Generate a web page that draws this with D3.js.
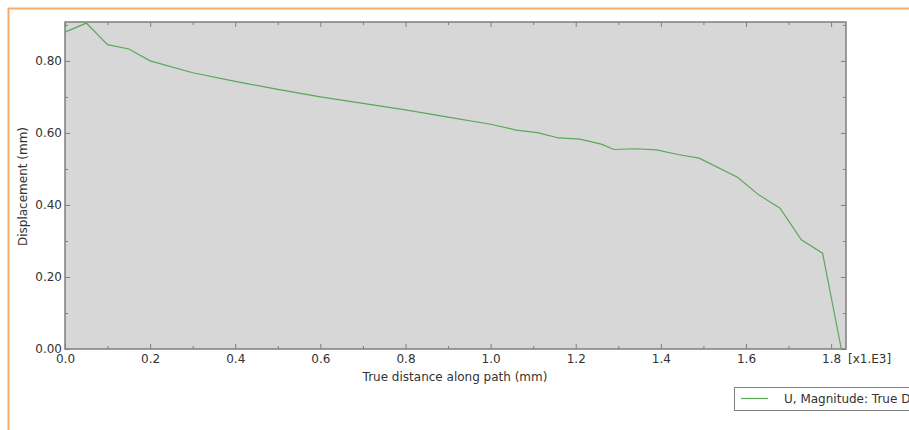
<!DOCTYPE html>
<html>
<head>
<meta charset="utf-8">
<script src="https://cdn.jsdelivr.net/npm/d3@7"></script>
<style>
  html, body { margin: 0; padding: 0; background: #ffffff; }
  svg { display: block; }
</style>
</head>
<body>
<svg id="chart" width="909" height="430"></svg>
<script>
// ---- data (x in units of 1e3 mm, y in mm) ----
const distance = [0, 0.05, 0.10, 0.15, 0.20, 0.30, 0.40, 0.50, 0.60, 0.70, 0.80, 0.90, 1.00, 1.06, 1.11, 1.16, 1.21, 1.26, 1.29, 1.34, 1.39, 1.44, 1.49, 1.58, 1.63, 1.68, 1.73, 1.78, 1.824];
const displacement = [0.880, 0.905, 0.845, 0.833, 0.800, 0.767, 0.743, 0.721, 0.700, 0.682, 0.664, 0.644, 0.624, 0.608, 0.601, 0.586, 0.583, 0.569, 0.554, 0.556, 0.553, 0.540, 0.530, 0.477, 0.428, 0.391, 0.303, 0.266, 0.0];
const xMajorTicks = [0, 0.2, 0.4, 0.6, 0.8, 1.0, 1.2, 1.4, 1.6, 1.8];
const xMinorTicks = [0.1, 0.3, 0.5, 0.7, 0.9, 1.1, 1.3, 1.5, 1.7];
const yMajorTicks = [0, 0.2, 0.4, 0.6, 0.8];
const yMinorTicks = [0.1, 0.3, 0.5, 0.7, 0.9];
const xTitle = "True distance along path (mm)";
const yTitle = "Displacement (mm)";
const xMultiplier = "[x1.E3]";
const legendLabel = "U, Magnitude: True Distance";

const svg = d3.select("#chart");
const plot = { left: 65, right: 846, top: 22, bottom: 349 };
const font = "'DejaVu Sans', Verdana, sans-serif";
const textColor = "#333333";
const frameColor = "#7f7f7f";
const lineColor = "#5aa85a";

const x = d3.scaleLinear().domain([0, 1.835]).range([plot.left, plot.right]);
const y = d3.scaleLinear().domain([0, 0.908]).range([plot.bottom, plot.top]);

// orange page border (top & left)
svg.append("line").attr("x1", 8).attr("x2", 909).attr("y1", 8.5).attr("y2", 8.5)
  .attr("stroke", "#f5ae6a").attr("stroke-width", 2);
svg.append("line").attr("x1", 8.5).attr("x2", 8.5).attr("y1", 8).attr("y2", 430)
  .attr("stroke", "#f5ae6a").attr("stroke-width", 2);

// plot background
svg.append("rect")
  .attr("x", plot.left).attr("y", plot.top)
  .attr("width", plot.right - plot.left).attr("height", plot.bottom - plot.top)
  .attr("fill", "#d7d7d7");

function styleAxis(g) {
  g.select(".domain").remove();
  g.selectAll(".tick line").attr("stroke", frameColor).attr("stroke-width", 1);
  g.selectAll(".tick text").attr("fill", textColor).style("font-family", font).style("font-size", "12px");
}

// bottom axis
svg.append("g").attr("transform", `translate(0,${plot.bottom})`)
  .call(d3.axisBottom(x).tickValues(xMajorTicks).tickFormat(d3.format(".1f")).tickSize(-5).tickPadding(5))
  .call(styleAxis);
svg.append("g").attr("transform", `translate(0,${plot.bottom})`)
  .call(d3.axisBottom(x).tickValues(xMinorTicks).tickFormat("").tickSize(-3))
  .call(styleAxis);
// top axis (ticks only)
svg.append("g").attr("transform", `translate(0,${plot.top})`)
  .call(d3.axisTop(x).tickValues(xMajorTicks).tickFormat("").tickSize(-5))
  .call(styleAxis);
svg.append("g").attr("transform", `translate(0,${plot.top})`)
  .call(d3.axisTop(x).tickValues(xMinorTicks).tickFormat("").tickSize(-3))
  .call(styleAxis);
// left axis
svg.append("g").attr("transform", `translate(${plot.left},0)`)
  .call(d3.axisLeft(y).tickValues(yMajorTicks).tickFormat(d3.format(".2f")).tickSize(-5).tickPadding(3))
  .call(styleAxis);
svg.append("g").attr("transform", `translate(${plot.left},0)`)
  .call(d3.axisLeft(y).tickValues(yMinorTicks).tickFormat("").tickSize(-3))
  .call(styleAxis);
// right axis (ticks only)
svg.append("g").attr("transform", `translate(${plot.right},0)`)
  .call(d3.axisRight(y).tickValues(yMajorTicks).tickFormat("").tickSize(-5))
  .call(styleAxis);
svg.append("g").attr("transform", `translate(${plot.right},0)`)
  .call(d3.axisRight(y).tickValues(yMinorTicks).tickFormat("").tickSize(-3))
  .call(styleAxis);

// frame
svg.append("rect")
  .attr("x", plot.left).attr("y", plot.top)
  .attr("width", plot.right - plot.left).attr("height", plot.bottom - plot.top)
  .attr("fill", "none").attr("stroke", frameColor).attr("stroke-width", 1.5);

// data line
const pts = distance.map((d, i) => [d, displacement[i]]);
svg.append("path")
  .datum(pts)
  .attr("fill", "none")
  .attr("stroke", lineColor)
  .attr("stroke-width", 1.2)
  .attr("d", d3.line().x(d => x(d[0])).y(d => y(d[1])));

// multiplier label
svg.append("text").attr("x", 848).attr("y", 363)
  .attr("fill", textColor).style("font-family", font).style("font-size", "12px")
  .text(xMultiplier);

// axis titles
svg.append("text").attr("x", 455).attr("y", 381).attr("text-anchor", "middle")
  .attr("fill", textColor).style("font-family", font).style("font-size", "12px")
  .text(xTitle);
svg.append("text")
  .attr("transform", `translate(27,${(plot.top + plot.bottom) / 2 + 1}) rotate(-90)`)
  .attr("text-anchor", "middle")
  .attr("fill", textColor).style("font-family", font).style("font-size", "12px")
  .text(yTitle);

// legend
const lg = svg.append("g");
lg.append("rect").attr("x", 734.5).attr("y", 387.5).attr("width", 200).attr("height", 23)
  .attr("fill", "#ffffff").attr("stroke", frameColor).attr("stroke-width", 1);
lg.append("line").attr("x1", 741).attr("x2", 768).attr("y1", 398.5).attr("y2", 398.5)
  .attr("stroke", lineColor).attr("stroke-width", 1.2);
lg.append("text").attr("x", 784).attr("y", 403)
  .attr("fill", textColor).style("font-family", font).style("font-size", "12px")
  .text(legendLabel);
</script>
</body>
</html>
